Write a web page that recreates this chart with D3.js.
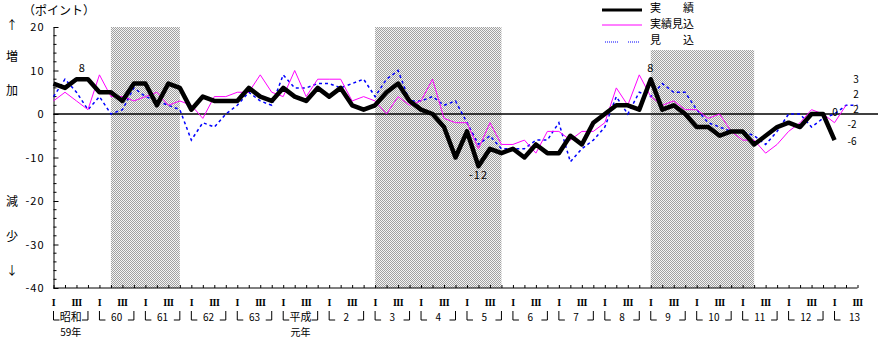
<!DOCTYPE html>
<html><head><meta charset="utf-8">
<script src="https://cdn.jsdelivr.net/npm/d3@7"></script>
<style>
body{margin:0;background:#fff;}
text{font-family:"Noto Sans CJK JP","Noto Sans",sans-serif;fill:#000;}
</style></head>
<body><svg id="c" width="887" height="360"></svg>
<script>
// quarters from 昭和59年 I (1984 Q1) = 0 to 平成13年 III (2001 Q3) = 70
const actual = [7,6,8,8,5,5,3,7,7,2,7,6,1,4,3,3,3,6,4,3,6,4,3,6,4,6,2,1,2,5,7,3,1,0,-3,-10,-4,-12,-8,-9,-8,-10,-7,-9,-9,-5,-7,-2,0,2,2,1,8,1,2,0,-3,-3,-5,-4,-4,-7,-5,-3,-2,-3,0,0,-6];
const expectedActual = [3,5,3,1,9,4,4,3,4,5,2,3,2,-1,4,4,5,5,9,5,4,10,4,8,8,8,3,4,3,0,4,2,3,8,-1,-2,-2,-8,-2,-7,-7,-6,-9,-4,-4,-6,-4,-4,-2,6,2,9,4,2,3,1,1,-1,0,-4,-6,-6,-9,-7,-4,-2,1,0,-2,2];
const forecast = [4,8,5,1,4,0,1,6,4,3,2,1,-6,-2,-3,0,2,5,3,2,9,6,6,7,7,6,7,8,4,8,10,3,3,4,2,3,-2,-7,-5,-8,-8,-8,-6,-6,-2,-11,-8,-6,-3,4,0,5,4,7,5,5,1,-2,-3,-4,-4,-5,-7,-4,0,0,-3,-1,0,2,2];
const yearLabels = ["昭和","60","61","62","63","平成","2","3","4","5","6","7","8","9","10","11","12","13"];
const yearSubLabels = ["59年","","","","","元年","","","","","","","","","","","",""];
const quarterLabels = ["I","III"];
const yTickValues = [-40,-30,-20,-10,0,10,20];
const shades = [[5,11,20],[28,39,20],[52,61,14.7]];
const legendNames = ["実　　績","実績見込","見　　込"];

const svg = d3.select("#c");
const x = d3.scaleLinear().domain([0,70]).range([53.5,857.5]);
const y = d3.scaleLinear().domain([-40,20]).range([288,27]);

// pattern
const defs = svg.append("defs");
const pat = defs.append("pattern").attr("id","hatch").attr("patternUnits","userSpaceOnUse")
  .attr("width",2).attr("height",2);
pat.append("rect").attr("width",2).attr("height",2).attr("fill","#f4f4f4");
pat.append("rect").attr("x",0).attr("y",0).attr("width",1).attr("height",1).attr("fill","#a0a0a0");
pat.append("rect").attr("x",1).attr("y",1).attr("width",1).attr("height",1).attr("fill","#a0a0a0");

svg.selectAll("rect.shade").data(shades).enter().append("rect").attr("class","shade")
  .attr("x",d=>x(d[0])).attr("width",d=>x(d[1])-x(d[0]))
  .attr("y",d=>y(d[2])).attr("height",d=>y(-40)-y(d[2]))
  .attr("fill","url(#hatch)");

// zero line
svg.append("line").attr("x1",x(0)).attr("x2",878).attr("y1",y(0)).attr("y2",y(0))
  .attr("stroke","#000").attr("stroke-width",1.3);

// y axis
const yAxis = d3.axisLeft(y).tickValues(yTickValues).tickSizeInner(-5).tickSizeOuter(0).tickPadding(9)
  .tickFormat(d=>String(d));
const gy = svg.append("g").attr("transform",`translate(${x(0)},0)`).call(yAxis);
gy.selectAll("text").style("font-size","11px").style("letter-spacing","1px").attr("font-family","'Noto Sans CJK JP'");
gy.selectAll("path,line").attr("stroke","#000");
gy.append("g").selectAll("line").data(d3.range(-40,21,2).filter(v=>v%10!==0)).enter().append("line")
  .attr("x1",0).attr("x2",3).attr("y1",d=>y(d)).attr("y2",d=>y(d)).attr("stroke","#000");

// x axis
const xAxis = d3.axisBottom(x).tickValues(d3.range(0,71)).tickSizeInner(-3).tickSizeOuter(0).tickFormat("");
const gx = svg.append("g").attr("transform",`translate(0,${y(-40)})`).call(xAxis);
gx.selectAll("path,line").attr("stroke","#000");
gx.select("path").attr("d",`M${x(0)},0H${x(70)}`);

// quarter labels
const qIdx = d3.range(0,71).filter(i=>i%4===0||i%4===2);
svg.selectAll("text.q").data(qIdx).enter().append("text").attr("class","q")
  .attr("x",d=>x(d)).attr("y",304).attr("text-anchor","middle").attr("dominant-baseline","middle")
  .style("font-size","10px").style("font-family","'Liberation Serif','DejaVu Serif',serif")
  .style("font-weight","bold").style("letter-spacing","-0.5px")
  .text(d=>quarterLabels[(d%4)/2]);

// year labels & brackets
yearLabels.forEach((lab,k)=>{
  const x0 = x(4*k), x3 = x(4*k+3);
  svg.append("path").attr("d",`M${x0},311V320H${x0+6}`).attr("stroke","#000").attr("fill","none");
  if (4*k+3 <= 70) svg.append("path").attr("d",`M${x3-6},320H${x3}V311`).attr("stroke","#000").attr("fill","none");
  const isKanji = /[^\d]/.test(lab);
  svg.append("text").attr("x",k===17?x(4*k)+20:x(4*k+1.5)).attr("y",318).attr("text-anchor","middle")
    .attr("dominant-baseline","middle").style("font-size",isKanji?"11px":"10px").text(lab);
  if (yearSubLabels[k]) svg.append("text").attr("x",x(4*k+1.5)).attr("y",333).attr("text-anchor","middle")
    .attr("dominant-baseline","middle").style("font-size","10px").text(yearSubLabels[k]);
});

// lines
const line = d3.line().x((d,i)=>x(i)).y(d=>y(d));
svg.append("path").datum(forecast).attr("d",line).attr("fill","none").attr("stroke","#0000ff")
  .attr("stroke-width",1.5).attr("stroke-dasharray","3,3");
svg.append("path").datum(expectedActual).attr("d",line).attr("fill","none").attr("stroke","#ff00ff")
  .attr("stroke-width",1);
svg.append("path").datum(actual).attr("d",line).attr("fill","none").attr("stroke","#000")
  .attr("stroke-width",4.5).attr("stroke-linejoin","round");

// data labels
const dl = [[2.5,actual[2],"8",-10],[52,actual[52],"8",-10],[37,actual[37],"-12",10]];
dl.forEach(d=>svg.append("text").attr("x",x(d[0])).attr("y",y(d[1])+d[3]).attr("text-anchor","middle")
  .attr("dominant-baseline","middle").style("font-size","11px").style("letter-spacing","1px").text(d[2]));
const rl = [[835,113,String(actual[67])],[852,142,String(actual[68])],[852,125,String(expectedActual[68])],
  [856,110,String(expectedActual[69])],[856,95,String(forecast[69])],[856,80,"3"]];
rl.forEach(d=>svg.append("text").attr("x",d[0]).attr("y",d[1]).attr("text-anchor","middle")
  .attr("dominant-baseline","middle").style("font-size","10px").text(d[2]));

// left labels
svg.append("text").attr("x",23).attr("y",12).attr("dominant-baseline","middle").style("font-size","12px").text("（ポイント）");
[["↑",27],["増",58],["加",92],["減",203],["少",238],["↓",272]].forEach(d=>
  svg.append("text").attr("x",12).attr("y",d[1]).attr("text-anchor","middle").attr("dominant-baseline","middle")
   .style("font-size","12px").text(d[0]));

// legend
const lg = svg.append("g");
lg.append("line").attr("x1",602).attr("x2",642).attr("y1",10).attr("y2",10).attr("stroke","#000").attr("stroke-width",3);
lg.append("line").attr("x1",602).attr("x2",642).attr("y1",25).attr("y2",25).attr("stroke","#ff00ff").attr("stroke-width",1);
lg.append("line").attr("x1",605).attr("x2",619).attr("y1",42).attr("y2",42).attr("stroke","#0000ff").attr("stroke-width",1).attr("stroke-dasharray","1,1");
lg.append("line").attr("x1",628).attr("x2",640).attr("y1",42).attr("y2",42).attr("stroke","#0000ff").attr("stroke-width",1).attr("stroke-dasharray","1,1");
legendNames.forEach((n,i)=>lg.append("text").attr("x",650).attr("y",[9,25,41][i]).attr("dominant-baseline","middle")
  .style("font-size","11px").text(n));
</script></body></html>
